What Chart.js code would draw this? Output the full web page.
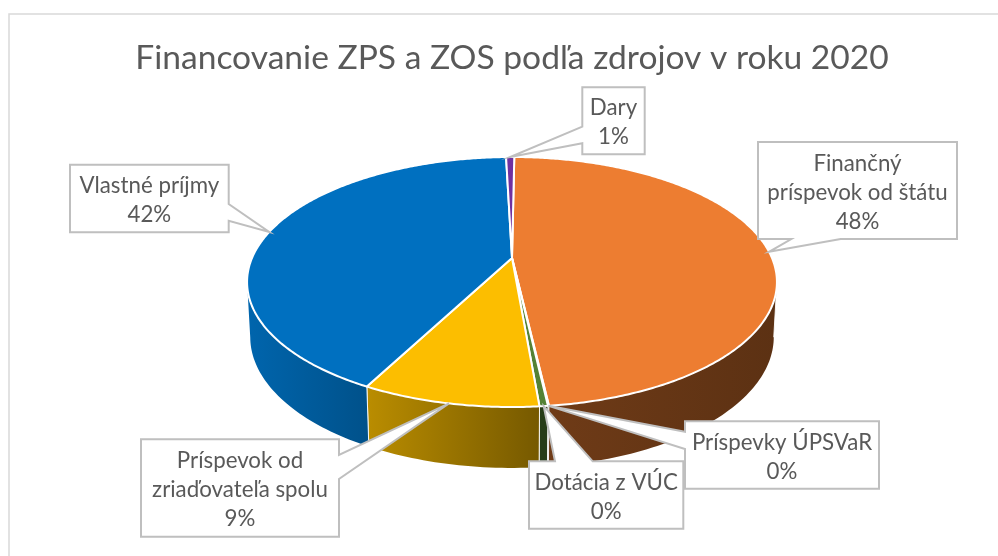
<!DOCTYPE html>
<html><head><meta charset="utf-8">
<style>html,body{margin:0;padding:0;background:#fff}canvas{display:block}</style>
<script src="https://cdn.jsdelivr.net/npm/chart.js@4"></script>
</head><body><canvas id="c" width="998" height="556"></canvas>
<script>
const chartTitle = "Financovanie ZPS a ZOS podľa zdrojov v roku 2020";
const categories = [["Finančný","príspevok od štátu"],["Príspevky ÚPSVaR"],["Dotácia z VÚC"],["Príspevok od","zriaďovateľa spolu"],["Vlastné príjmy"],["Dary"]];
const shares = [48.0, 0.05, 0.42, 9.03, 41.9, 0.6];
const sliceColors = ["#ed7d31","#a5a5a5","#548235","#fcbe00","#0070c0","#7030a0"];
const wallShades = [[0.47,0.39],[0.5,0.4],[0.47,0.47],[0.74,0.47],[0.9,0.72],[0.6,0.6]];
const calloutBoxes = [
  {l:758,t:142,r:957,b:239,side:"bottom",a:791.3,z:840.7},
  {l:685,t:421.3,r:879,b:488.7,side:"left",a:431.7,z:449},
  {l:529,t:461.3,r:683.3,b:528.7,side:"top",a:555,z:592.7},
  {l:141,t:439.3,r:339,b:536.7,side:"right",a:455,z:479},
  {l:70,t:164.7,r:228.7,b:232.3,side:"right",a:204,z:220.7},
  {l:582.3,t:87.3,r:644.7,b:154.3,side:"left",a:126.7,z:143.3}
];
const FONT = "Lato";
const tilt = 0.192, topScaleY = 120.4/260, wallDrop = 54, botRadius = 257/260, botScaleY = 126.3/257, botTilt = 0.19;

function topPoint(el,t,r){ r = r===undefined?1:r;
  const u=Math.cos(t)*r,v=Math.sin(t)*r,w=1-tilt*v,R=el.outerRadius;
  return [el.x+R*u/w, el.y+R*topScaleY*v/w];
}
function botPoint(el,t){
  const u=Math.cos(t),v=Math.sin(t),w=1-botTilt*v,R=el.outerRadius*botRadius;
  return [el.x+R*u/w, el.y+wallDrop+R*botScaleY*v/w];
}
function shade(hex,f){
  const n=parseInt(hex.slice(1),16);
  return `rgb(${Math.round((n>>16&255)*f)},${Math.round((n>>8&255)*f)},${Math.round((n&255)*f)})`;
}
const pie3d = {
  id:"pie3d",
  beforeDraw(chart){
    const c=chart.ctx;
    c.save();c.fillStyle="#fff";c.fillRect(0,0,chart.width,chart.height);
    c.strokeStyle="#d9d9d9";c.lineWidth=1.5;
    c.beginPath();c.moveTo(9,556);c.lineTo(9,14);c.lineTo(998,14);c.stroke();
    c.restore();
  },
  beforeDatasetsDraw(chart){
    const c=chart.ctx, els=chart.getDatasetMeta(0).data;
    const tA=Math.asin(tilt), tB=Math.PI-tA;
    c.save();
    els.forEach((el,i)=>{
      const lo=Math.max(el.startAngle,tA), hi=Math.min(el.endAngle,tB);
      if(hi<=lo) return;
      const n=Math.max(2,Math.ceil((hi-lo)/0.02)), pts=[];
      for(let k=0;k<=n;k++) pts.push(topPoint(el,lo+(hi-lo)*k/n));
      for(let k=n;k>=0;k--) pts.push(botPoint(el,lo+(hi-lo)*k/n));
      const xs=pts.map(p=>p[0]);
      const g=c.createLinearGradient(Math.min(...xs),0,Math.max(...xs),0);
      const base=sliceColors[i];
      g.addColorStop(0,shade(base,wallShades[i][0]));
      g.addColorStop(1,shade(base,wallShades[i][1]));
      c.beginPath();pts.forEach((p,k)=>k?c.lineTo(p[0],p[1]):c.moveTo(p[0],p[1]));c.closePath();
      c.fillStyle=g;c.fill();
      c.strokeStyle="rgba(255,255,255,0.9)";c.lineWidth=1;
      c.beginPath();c.moveTo(pts[0][0],pts[0][1]);c.lineTo(pts[pts.length-1][0],pts[pts.length-1][1]);
      if(hi<tB && lo>tA){c.moveTo(pts[n][0],pts[n][1]);c.lineTo(pts[n+1][0],pts[n+1][1]);}
      c.stroke();
    });
    els.forEach(el=>{
      const lo=el.startAngle,hi=el.endAngle,n=Math.max(2,Math.ceil((hi-lo)/0.01));
      c.beginPath();c.moveTo(el.x,el.y);
      for(let k=0;k<=n;k++){const p=topPoint(el,lo+(hi-lo)*k/n);c.lineTo(p[0],p[1]);}
      c.closePath();
      c.fillStyle=el.options.backgroundColor;c.fill();
      c.lineJoin="round";c.strokeStyle=el.options.borderColor;c.lineWidth=el.options.borderWidth;c.stroke();
    });
    c.restore();
    return false;
  },
  afterDraw(chart){
    const c=chart.ctx, els=chart.getDatasetMeta(0).data;
    const total=shares.reduce((a,b)=>a+b,0);
    c.save();
    els.forEach((el,i)=>{
      const b=calloutBoxes[i], tip=topPoint(el,(el.startAngle+el.endAngle)/2);
      const p=[[b.l,b.t]];
      if(b.side==="top") p.push([b.a,b.t],tip,[b.z,b.t]);
      p.push([b.r,b.t]);
      if(b.side==="right") p.push([b.r,b.a],tip,[b.r,b.z]);
      p.push([b.r,b.b]);
      if(b.side==="bottom") p.push([b.z,b.b],tip,[b.a,b.b]);
      p.push([b.l,b.b]);
      if(b.side==="left") p.push([b.l,b.z],tip,[b.l,b.a]);
      c.beginPath();p.forEach((q,k)=>k?c.lineTo(q[0],q[1]):c.moveTo(q[0],q[1]));c.closePath();
      c.fillStyle="#fff";c.fill();
      c.strokeStyle="#bfbfbf";c.lineWidth=2;c.lineJoin="miter";c.stroke();
      const lines=[...categories[i],Math.round(shares[i]/total*100)+"%"];
      const lh=29,cx=(b.l+b.r)/2,cy=(b.t+b.b)/2+2;
      c.fillStyle="#595959";c.font=`22.3px ${FONT}`;c.textAlign="center";c.textBaseline="middle";
      lines.forEach((t,k)=>c.fillText(t,cx,cy+(k-(lines.length-1)/2)*lh));
    });
    c.restore();
  }
};
new Chart(document.getElementById("c"),{
  type:"pie",
  data:{labels:categories,datasets:[{data:shares,backgroundColor:sliceColors,borderColor:"#ffffff",borderWidth:2}]},
  options:{
    responsive:false,animation:false,rotation:0.6,radius:260,
    layout:{padding:{left:26,right:0,top:0,bottom:119}},
    plugins:{
      legend:{display:false},tooltip:{enabled:false},
      title:{display:true,text:chartTitle,color:"#595959",font:{family:FONT,size:33.6,weight:"normal",lineHeight:1.2},padding:{top:38,bottom:0.7}}
    }
  },
  plugins:[pie3d]
});
</script></body></html>
